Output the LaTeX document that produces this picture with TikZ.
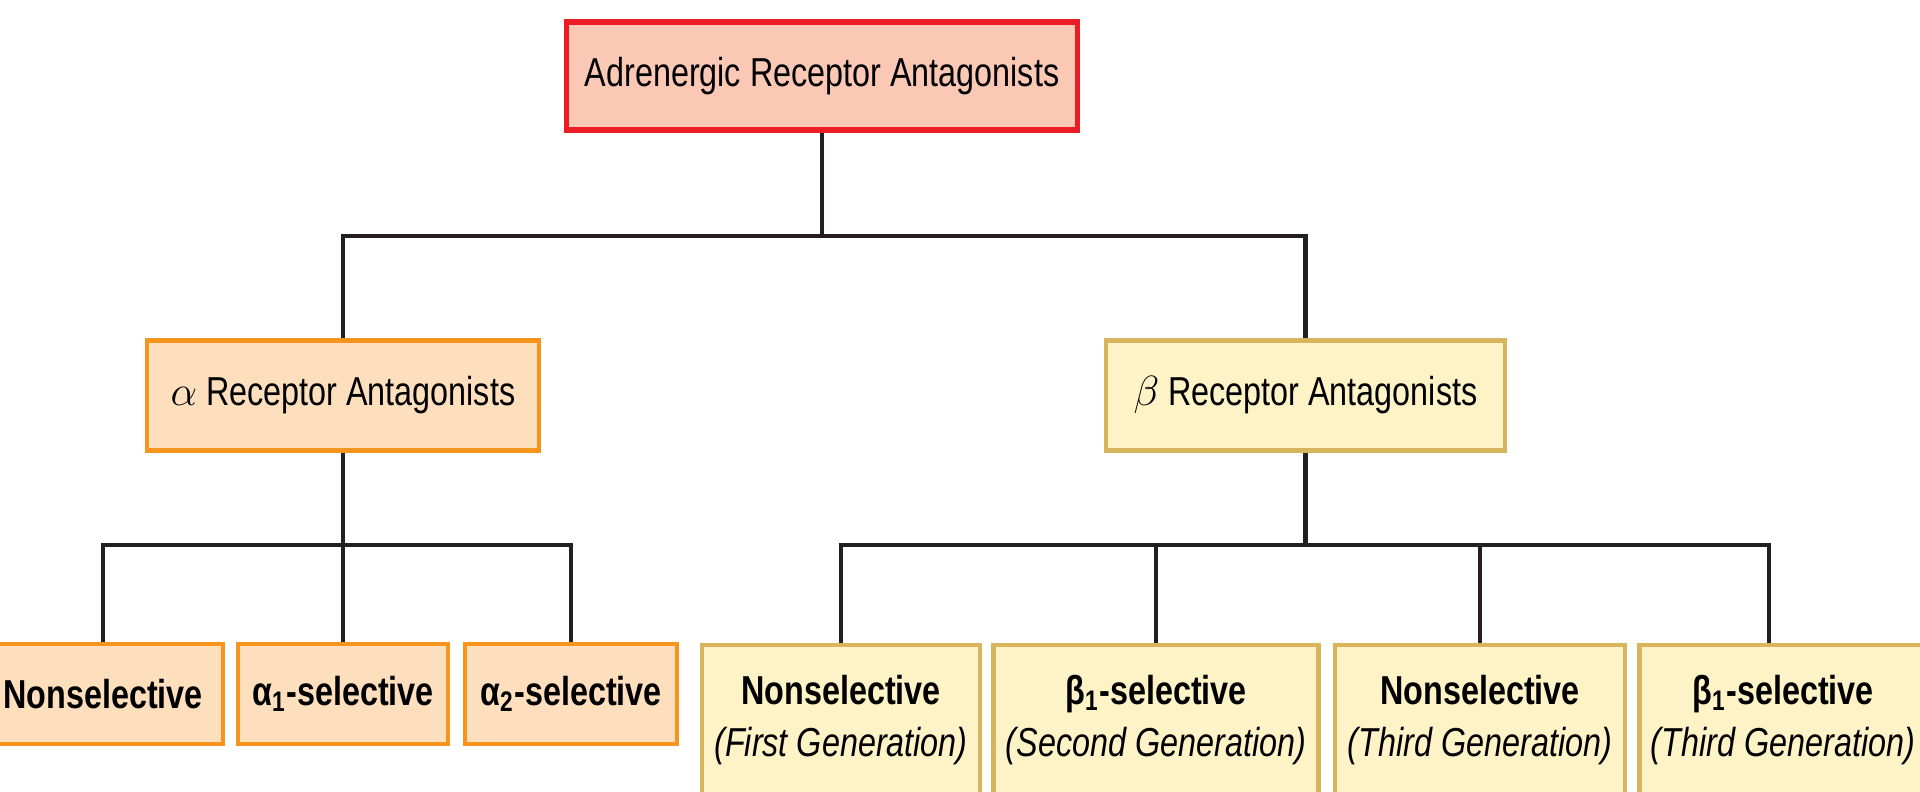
\documentclass[tikz,border=0pt]{standalone}
\usepackage{fontspec}
\setmainfont{Liberation Sans}[FakeStretch=0.8]
\usetikzlibrary{positioning}

\definecolor{rootfill}{HTML}{FAC8B4}
\definecolor{rootline}{HTML}{EC1C24}
\definecolor{alphafill}{HTML}{FDDFBE}
\definecolor{alphaline}{HTML}{F7941D}
\definecolor{betafill}{HTML}{FEF3C6}
\definecolor{betaline}{HTML}{D8B45C}
\definecolor{wire}{HTML}{231F20}

\begin{document}
\begin{tikzpicture}[
  node distance=1cm,
  box/.style={rectangle, text centered, align=center, line width=1.4pt, font=\fontsize{11.5}{15}\selectfont},
  rootbox/.style={box, minimum width=5.11cm, minimum height=1.08cm, draw=rootline, fill=rootfill, line width=1.6pt},
  alphabox/.style={box, minimum height=1.1cm, draw=alphaline, fill=alphafill},
  betabox/.style={box, minimum height=1.1cm, draw=betaline, fill=betafill},
  alphakid/.style={alphabox, minimum height=1.0cm, font=\fontsize{11.5}{15}\selectfont\bfseries},
  betakid/.style={betabox, minimum height=1.5cm},
  link/.style={draw=wire, line width=1.35pt}]

  \useasboundingbox (0,0) rectangle (19.2,-7.92);

  % Nodes
  \node (root) [rootbox] at (8.22,-0.76) {Adrenergic Receptor Antagonists};

  \node (alpha) [alphabox, minimum width=3.92cm, below of=root, xshift=-4.79cm, yshift=-2.195cm] {$\alpha$ Receptor Antagonists};
  \node (beta) [betabox, minimum width=3.99cm, below of=root, xshift=4.835cm, yshift=-2.195cm] {$\beta$ Receptor Antagonists};

  \node (alphaone) [alphakid, minimum width=2.1cm, below of=alpha, yshift=-1.985cm] {α\textsubscript{1}-selective};
  \node (alphanon) [alphakid, minimum width=2.4cm, left of=alphaone, xshift=-1.4cm] {Nonselective};
  \node (alphatwo) [alphakid, minimum width=2.12cm, right of=alphaone, xshift=1.28cm] {α\textsubscript{2}-selective};

  \node (betafirst) [betakid, minimum width=2.78cm, below of=beta, xshift=-4.645cm, yshift=-2.245cm] {\textbf{Nonselective}\\\textit{(First Generation)}};
  \node (betasecond) [betakid, minimum width=3.25cm, right of=betafirst, xshift=2.15cm] {\textbf{β\textsubscript{1}-selective}\\\textit{(Second Generation)}};
  \node (betathird) [betakid, minimum width=2.9cm, right of=betasecond, xshift=2.24cm] {\textbf{Nonselective}\\\textit{(Third Generation)}};
  \node (betalast) [betakid, minimum width=2.85cm, right of=betathird, xshift=2.03cm] {\textbf{β\textsubscript{1}-selective}\\\textit{(Third Generation)}};

  % Bars
  \coordinate (rootbar) at (0,-2.36);
  \coordinate (alphabar) at (0,-5.45);
  \coordinate (betabar) at (0,-5.45);
  \coordinate (betadrop) at ([xshift=-0.14cm]betalast.north);

  % Lines
  \draw [link] (root.south) -- (root.south |- rootbar);
  \draw [link] (alpha.north) |- (rootbar -| beta.north) -- (beta.north);

  \draw [link] (alpha.south) -- (alpha.south |- alphabar);
  \draw [link] (alphanon.north) |- (alphabar -| alphatwo.north) -- (alphatwo.north);
  \draw [link] (alphaone.north) -- (alphaone.north |- alphabar);

  \draw [link] (beta.south) -- (beta.south |- betabar);
  \draw [link] (betafirst.north) |- (betabar -| betadrop) -- (betadrop);
  \draw [link] (betasecond.north) -- (betasecond.north |- betabar);
  \draw [link] (betathird.north) -- (betathird.north |- betabar);

\end{tikzpicture}
\end{document}
